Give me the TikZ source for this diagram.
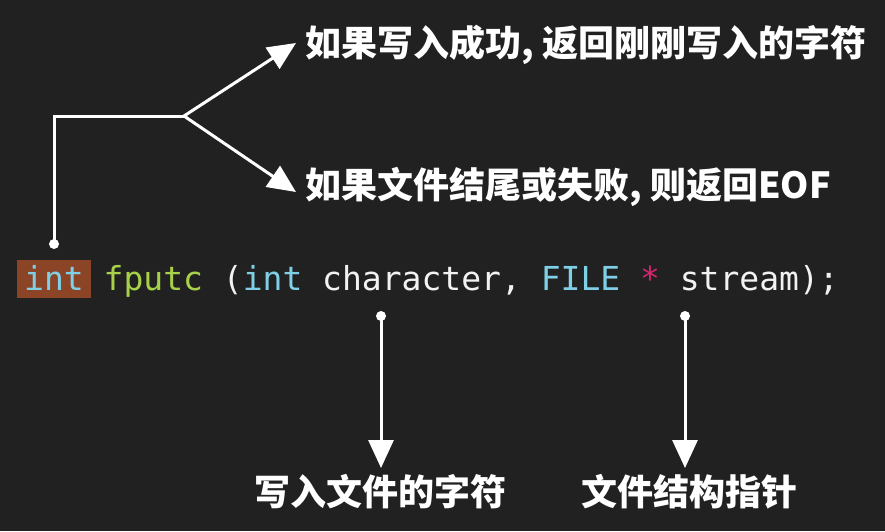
\documentclass[tikz,border=0pt]{standalone}
\usepackage{fontspec}
\setmonofont{DejaVu Sans Mono}
\newfontfamily\cjk{Noto Sans CJK SC}
\usetikzlibrary{arrows.meta}
\definecolor{bg}{HTML}{212121}
\definecolor{kw}{HTML}{7FD0E6}
\definecolor{fn}{HTML}{A8D14A}
\definecolor{hl}{HTML}{8B4526}
\definecolor{ptr}{HTML}{D6246E}
\definecolor{fg}{HTML}{F2F2F2}
\begin{document}
\begin{tikzpicture}[x=1pt,y=-1pt,
  conn/.style={draw=white,line width=3pt},
  arr/.style={conn,-{Triangle[width=25pt,length=28pt]}},
  dot/.style={circle,fill=white,inner sep=0pt,minimum size=10pt},
  label/.style={text=white,font=\cjk\bfseries\fontsize{36}{42}\selectfont,inner sep=0pt},
  code/.style={font=\ttfamily\fontsize{33}{40}\selectfont,inner sep=0pt}]
\fill[bg] (0,0) rectangle (885,531);
\useasboundingbox (0,0) rectangle (885,531);

\node[code,anchor=base west,fill=hl,text=kw,inner xsep=7pt,text height=30pt,text depth=8pt] (int) at (17,290) {int};
\node[code,anchor=base west] (sig) at (103.5,290) {\textcolor{fn}{fputc} \textcolor{fg}{(}\textcolor{kw}{int} \textcolor{fg}{character,} \textcolor{kw}{FILE} \textcolor{ptr}{*} \textcolor{fg}{stream);}};

\node[label,anchor=west] (ta) at (305,45) {如果写入成功, 返回刚刚写入的字符};
\node[label,anchor=west] (tb) at (305,187) {如果文件结尾或失败, 则返回EOF};
\node[label] (tc) at (380,492) {写入文件的字符};
\node[label] (td) at (689,492) {文件结构指针};

\coordinate (corner) at (54,116);
\coordinate (fork) at (184,116);
\coordinate (tipA) at (296,43);
\coordinate (tipB) at (296,192);
\coordinate (tipC) at (381,468);
\coordinate (tipD) at (685,468);
\coordinate (p0) at (54,244);
\coordinate (p1) at (381,316);
\coordinate (p2) at (685,316);

\draw[conn] (p0) -- (corner) -- (fork);
\draw[arr] (fork) -- (tipA);
\draw[arr] (fork) -- (tipB);
\draw[arr] (p1) -- (tipC);
\draw[arr] (p2) -- (tipD);

\node[dot] (d0) at (p0) {};
\node[dot] (d1) at (p1) {};
\node[dot] (d2) at (p2) {};
\end{tikzpicture}
\end{document}
